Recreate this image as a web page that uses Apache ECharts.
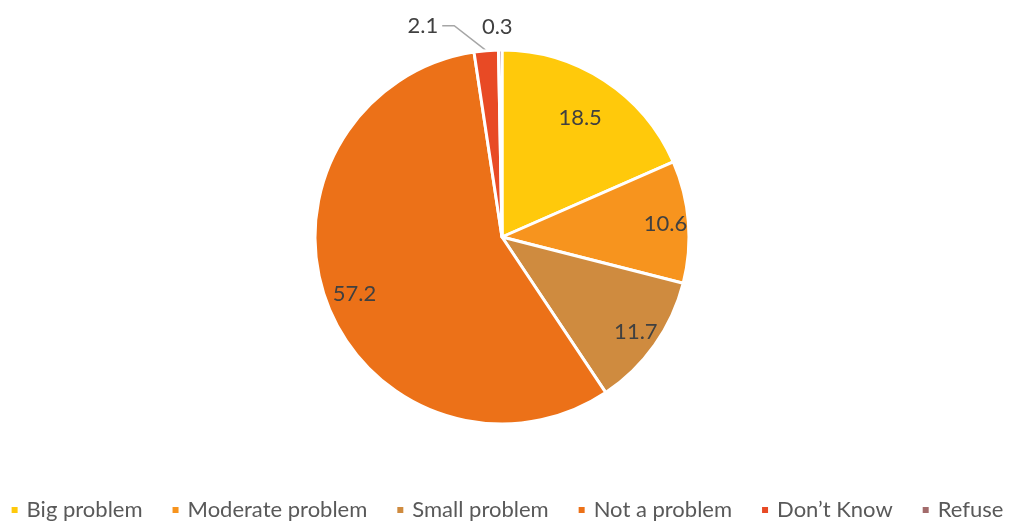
<!DOCTYPE html>
<html>
<head>
<meta charset="utf-8">
<script src="https://cdn.jsdelivr.net/npm/echarts@6/dist/echarts.min.js"></script>
<style>
  html, body { margin: 0; padding: 0; background: #ffffff; }
  #chart { width: 1013px; height: 522px; }
</style>
</head>
<body>
<div id="chart"></div>
<script>
// Survey responses (percent)
const categories = ['Big problem', 'Moderate problem', 'Small problem', 'Not a problem', 'Don\u2019t Know', 'Refuse'];
const values = [18.5, 10.6, 11.7, 57.2, 2.1, 0.3];
const colors = ['#FFC90B', '#F7941E', '#CF8B3F', '#EC7118', '#E84A25', '#A36B6B'];

const CX = 502, CY = 237, R = 187;
// radial position of each in-slice value label (fraction of radius)
const insideRatio = [0.74, 0.85, 0.85, 0.82];
const FONT = 'Lato, "Open Sans", sans-serif';

const chart = echarts.init(document.getElementById('chart'), null, { renderer: 'canvas' });

const data = categories.map((name, i) => {
  const item = { name: name, value: values[i], itemStyle: { color: colors[i] } };
  if (i >= 4) {
    item.label = { position: 'outside' };
    item.labelLine = { show: i === 4 };
  }
  return item;
});

chart.setOption({
  animation: false,
  backgroundColor: '#ffffff',
  legend: {
    data: categories,
    top: 494,
    left: 'center',
    icon: 'rect',
    itemWidth: 8,
    itemHeight: 8,
    itemGap: 28,
    textStyle: { color: '#595959', fontSize: 22, fontFamily: FONT, padding: [0, 0, 0, 3] }
  },
  series: [{
    type: 'pie',
    center: [CX, CY],
    radius: R,
    startAngle: 90,
    clockwise: true,
    avoidLabelOverlap: false,
    itemStyle: { borderColor: '#ffffff', borderWidth: 3 },
    label: {
      show: true,
      position: 'inside',
      formatter: p => p.value.toFixed(1),
      color: '#404040',
      fontSize: 22,
      fontFamily: FONT
    },
    labelLine: {
      show: true,
      lineStyle: { color: '#A6A6A6', width: 1.5 }
    },
    labelLayout: function (p) {
      const i = p.dataIndex;
      const lr = p.labelRect;
      if (i < 4) {
        // push the inside labels out from the half-radius default
        const mx = lr.x + lr.width / 2, my = lr.y + lr.height / 2;
        const k = insideRatio[i] / 0.5;
        return { x: CX + (mx - CX) * k, y: CY + (my - CY) * k, align: 'center', verticalAlign: 'middle' };
      }
      const e = p.labelLinePoints ? p.labelLinePoints[0] : [CX, CY - R];
      if (i === 4) {
        // elbowed leader going up-left from the slice edge
        const bend = [e[0] - 32, e[1] - 25];
        const end = [bend[0] - 12, bend[1]];
        return {
          x: end[0] - 4, y: end[1], align: 'right', verticalAlign: 'middle',
          labelLinePoints: [e, bend, end]
        };
      }
      return { x: e[0] - 3, y: e[1] - 23, align: 'center', verticalAlign: 'middle' };
    },
    data: data
  }]
});
</script>
</body>
</html>
